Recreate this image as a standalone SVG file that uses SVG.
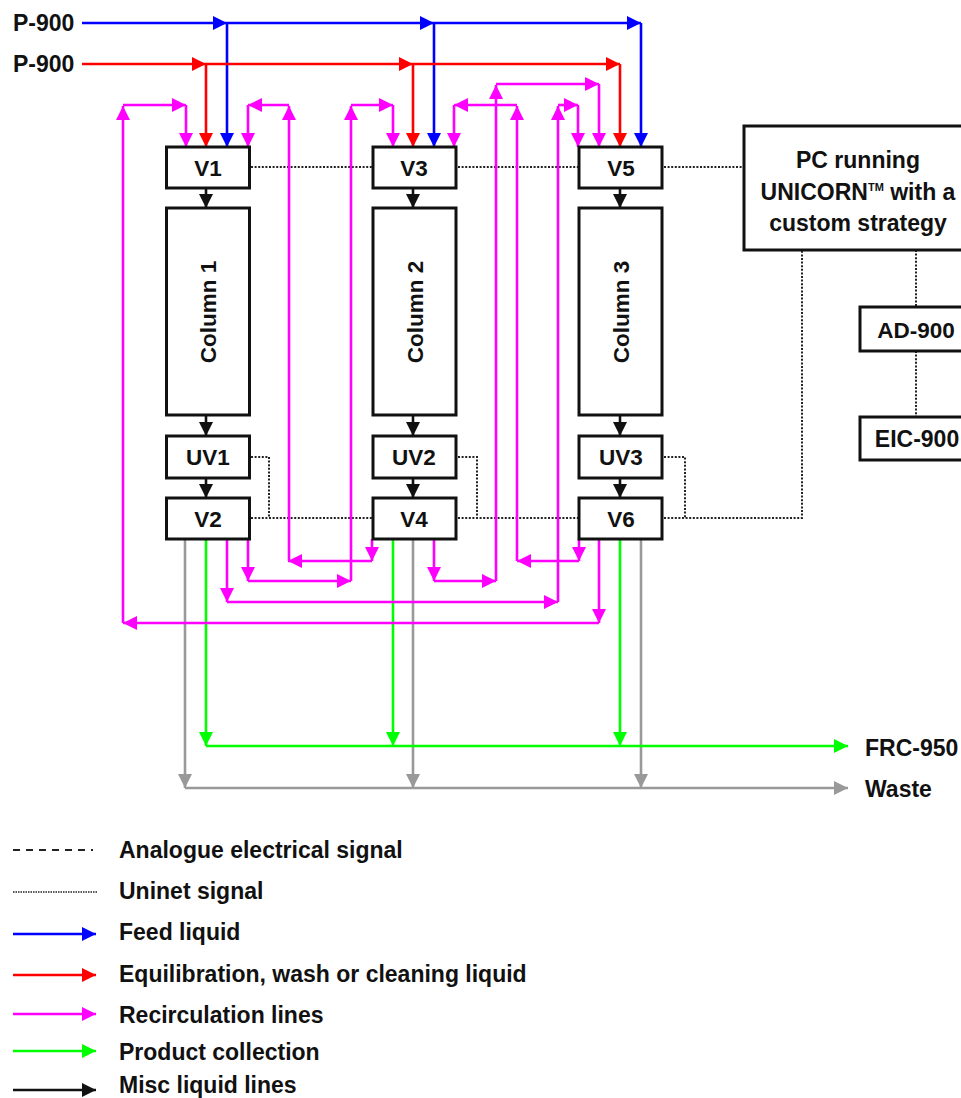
<svg xmlns="http://www.w3.org/2000/svg" width="961" height="1098" viewBox="0 0 961 1098">
<style>
text{font-family:"Liberation Sans",Arial,sans-serif;font-weight:bold;fill:#111}
.n{font-size:22.5px;text-anchor:middle}
.l{font-size:23px}
.c{text-anchor:middle}
.b{fill:#fff;stroke:#111;stroke-width:3}
path{fill:none}
.bl{stroke:#0000ff;stroke-width:2.6;marker-end:url(#mb)}
.r{stroke:#ff0000;stroke-width:2.6;marker-end:url(#mr)}
.m{stroke:#ff00ff;stroke-width:2.6;marker-end:url(#mm)}
.g{stroke:#00ff00;stroke-width:2.6;marker-end:url(#mg)}
.y{stroke:#999999;stroke-width:2.6;marker-end:url(#my)}
.k{stroke:#111;stroke-width:2.6;marker-end:url(#mk)}
.d{stroke:#222;stroke-width:2;stroke-dasharray:2 1.6}
.da{stroke:#222;stroke-width:2;stroke-dasharray:7 6}
</style>
<defs>
<marker id="mb" markerUnits="userSpaceOnUse" markerWidth="15" markerHeight="15" refX="14" refY="7.500" orient="auto"><path d="M0 0.500L14 7.500L0 14.500Z" style="fill:#0000ff"/></marker>
<marker id="mr" markerUnits="userSpaceOnUse" markerWidth="15" markerHeight="15" refX="14" refY="7.500" orient="auto"><path d="M0 0.500L14 7.500L0 14.500Z" style="fill:#ff0000"/></marker>
<marker id="mm" markerUnits="userSpaceOnUse" markerWidth="15" markerHeight="15" refX="14" refY="7.500" orient="auto"><path d="M0 0.500L14 7.500L0 14.500Z" style="fill:#ff00ff"/></marker>
<marker id="mg" markerUnits="userSpaceOnUse" markerWidth="15" markerHeight="15" refX="14" refY="7.500" orient="auto"><path d="M0 0.500L14 7.500L0 14.500Z" style="fill:#00ff00"/></marker>
<marker id="my" markerUnits="userSpaceOnUse" markerWidth="15" markerHeight="15" refX="14" refY="7.500" orient="auto"><path d="M0 0.500L14 7.500L0 14.500Z" style="fill:#999999"/></marker>
<marker id="mk" markerUnits="userSpaceOnUse" markerWidth="15" markerHeight="15" refX="14" refY="7.500" orient="auto"><path d="M0 0.500L14 7.500L0 14.500Z" style="fill:#111"/></marker>
</defs>
<g id="connectors">
<path class="d" d="M251 167H373M458 167H579M664 167H744M251 518H373M458 518H579M664 518H802V250M251 457H269V518M458 457H477V518M664 457H685V518M916 250V307M916 351V417"/>
<path class="y" d="M185 539V788"/><path class="y" d="M413 539V788"/><path class="y" d="M641 539V788"/><path class="y" d="M185 788H848"/>
<path class="g" d="M206 539V746"/><path class="g" d="M393 539V746"/><path class="g" d="M620 539V746"/><path class="g" d="M206 746H848"/>
<path class="m" d="M123 623V106"/><path class="m" d="M123 105H186"/><path class="m" d="M186 105V147"/>
<path class="m" d="M289 105H248"/><path class="m" d="M248 105V147"/><path class="m" d="M289 561V106"/>
<path class="m" d="M372 539V561"/><path class="m" d="M372 561H288"/>
<path class="m" d="M248 539V581"/><path class="m" d="M248 581H351"/><path class="m" d="M351 581V106"/><path class="m" d="M351 105H393"/><path class="m" d="M393 105V147"/>
<path class="m" d="M517 105H454"/><path class="m" d="M454 105V147"/><path class="m" d="M517 561V106"/>
<path class="m" d="M579 539V561"/><path class="m" d="M579 561H517"/>
<path class="m" d="M434 539V581"/><path class="m" d="M434 581H496"/><path class="m" d="M496 581V85"/><path class="m" d="M496 84H599"/><path class="m" d="M599 84V147"/>
<path class="m" d="M227 539V602"/><path class="m" d="M227 602H558"/><path class="m" d="M558 602V106"/><path class="m" d="M558 105H578"/><path class="m" d="M578 105V147"/>
<path class="m" d="M599 539V623"/><path class="m" d="M599 623H123"/>
<path class="bl" d="M82 23H227"/><path class="bl" d="M227 23H434"/><path class="bl" d="M434 23H641"/><path class="bl" d="M227 23V147"/><path class="bl" d="M434 23V147"/><path class="bl" d="M641 23V147"/>
<path class="r" d="M82 64H206"/><path class="r" d="M206 64H413"/><path class="r" d="M413 64H620"/><path class="r" d="M206 64V147"/><path class="r" d="M413 64V147"/><path class="r" d="M620 64V147"/>
<path class="k" d="M206 188V208"/><path class="k" d="M206 415V436"/><path class="k" d="M206 478V498"/>
<path class="k" d="M413 188V208"/><path class="k" d="M413 415V436"/><path class="k" d="M413 478V498"/>
<path class="k" d="M620 188V208"/><path class="k" d="M620 415V436"/><path class="k" d="M620 478V498"/>
</g>
<g id="p900-blue"><text class="l" x="13" y="31">P-900</text></g>
<g id="p900-red"><text class="l" x="13" y="72">P-900</text></g>
<g id="v1"><rect class="b" x="166.500" y="147" width="83" height="41"/><text class="n" x="208" y="176">V1</text></g>
<g id="column1"><rect class="b" x="166.500" y="208" width="83" height="207"/><text class="n" transform="translate(216 312) rotate(-90)">Column 1</text></g>
<g id="uv1"><rect class="b" x="166.500" y="436" width="83" height="42"/><text class="n" x="208" y="465">UV1</text></g>
<g id="v2"><rect class="b" x="166.500" y="498" width="83" height="41"/><text class="n" x="208" y="527">V2</text></g>
<g id="v3"><rect class="b" x="373" y="147" width="83" height="41"/><text class="n" x="414" y="176">V3</text></g>
<g id="column2"><rect class="b" x="373" y="208" width="83" height="207"/><text class="n" transform="translate(423 312) rotate(-90)">Column 2</text></g>
<g id="uv2"><rect class="b" x="373" y="436" width="83" height="42"/><text class="n" x="414" y="465">UV2</text></g>
<g id="v4"><rect class="b" x="373" y="498" width="83" height="41"/><text class="n" x="414" y="527">V4</text></g>
<g id="v5"><rect class="b" x="579" y="147" width="83" height="41"/><text class="n" x="621" y="176">V5</text></g>
<g id="column3"><rect class="b" x="579" y="208" width="83" height="207"/><text class="n" transform="translate(629 312) rotate(-90)">Column 3</text></g>
<g id="uv3"><rect class="b" x="579" y="436" width="83" height="42"/><text class="n" x="621" y="465">UV3</text></g>
<g id="v6"><rect class="b" x="579" y="498" width="83" height="41"/><text class="n" x="621" y="527">V6</text></g>
<g id="pc"><rect class="b" x="744" y="126" width="230" height="124"/><text class="l c" x="858" y="168">PC running</text><text class="l c" x="858" y="200">UNICORN<tspan font-size="11" dy="-9">TM</tspan><tspan dy="9"> with a</tspan></text><text class="l c" x="858" y="231">custom strategy</text></g>
<g id="ad900"><rect class="b" x="860" y="307" width="115" height="44"/><text class="n" x="916" y="338">AD-900</text></g>
<g id="eic900"><rect class="b" x="860" y="417" width="115" height="43"/><text class="l c" x="917" y="447">EIC-900</text></g>
<g id="frc950"><text class="l" x="865" y="756">FRC-950</text></g>
<g id="waste"><text class="l" x="865" y="797">Waste</text></g>
<g id="legend">
<path class="da" d="M13 850H93"/><path class="d" style="stroke-width:1.500;stroke-dasharray:1.500 1" d="M13 892H97"/>
<path class="bl" d="M13 934H96"/><path class="r" d="M13 975H96"/><path class="m" d="M13 1014H96"/><path class="g" d="M13 1051H96"/><path class="k" d="M13 1090H96"/>
<text class="l" x="119" y="858">Analogue electrical signal</text>
<text class="l" x="119" y="899">Uninet signal</text>
<text class="l" x="119" y="940">Feed liquid</text>
<text class="l" x="119" y="982">Equilibration, wash or cleaning liquid</text>
<text class="l" x="119" y="1023">Recirculation lines</text>
<text class="l" x="119" y="1060">Product collection</text>
<text class="l" x="119" y="1093">Misc liquid lines</text>
</g>
</svg>
